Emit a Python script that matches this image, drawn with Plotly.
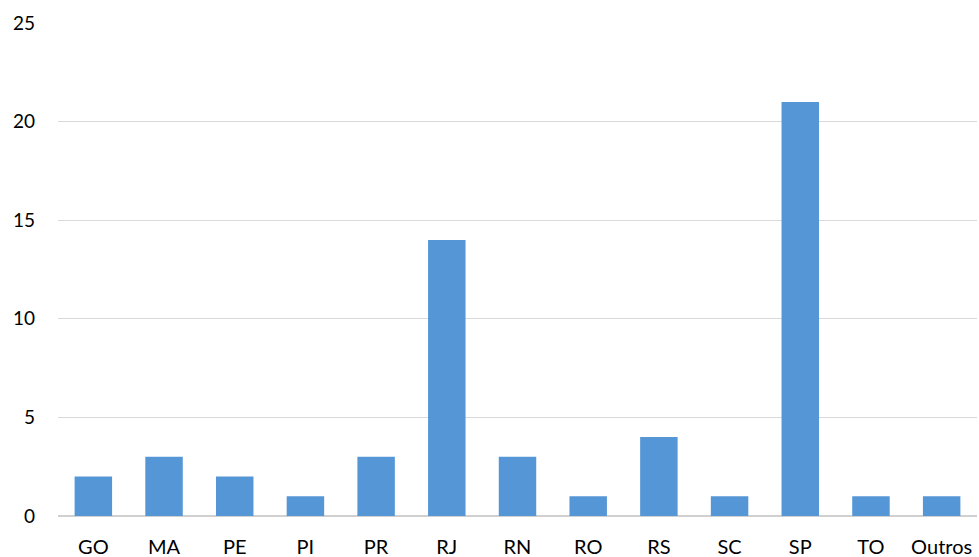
import plotly.graph_objects as go

categories = ["GO", "MA", "PE", "PI", "PR", "RJ", "RN", "RO", "RS", "SC", "SP", "TO", "Outros"]
values = [2, 3, 2, 1, 3, 14, 3, 1, 4, 1, 21, 1, 1]
y_ticks = [0, 5, 10, 15, 20, 25]

fig = go.Figure(go.Bar(
    x=categories, y=values,
    marker=dict(color="#5596d6", line=dict(width=0)),
))

fig.update_layout(
    width=979, height=557,
    margin=dict(l=58, r=2, t=23, b=41),
    paper_bgcolor="white", plot_bgcolor="white",
    bargap=0.47,
    showlegend=False,
    font=dict(family="Lato, Carlito, Liberation Sans, sans-serif", size=19, color="#000000"),
    xaxis=dict(showgrid=False, showline=False, ticks="", ticklabelstandoff=17,
               automargin=False, tickfont=dict(size=20)),
    yaxis=dict(range=[0, 25], tickvals=y_ticks, showgrid=True, gridcolor="#d9d9d9",
               gridwidth=1.3, zeroline=True, zerolinecolor="#d0d0d0", zerolinewidth=1.5,
               showline=False, ticks="", ticklabelstandoff=22, automargin=False,
               tickfont=dict(size=19)),
)

fig.write_html("out.html")
